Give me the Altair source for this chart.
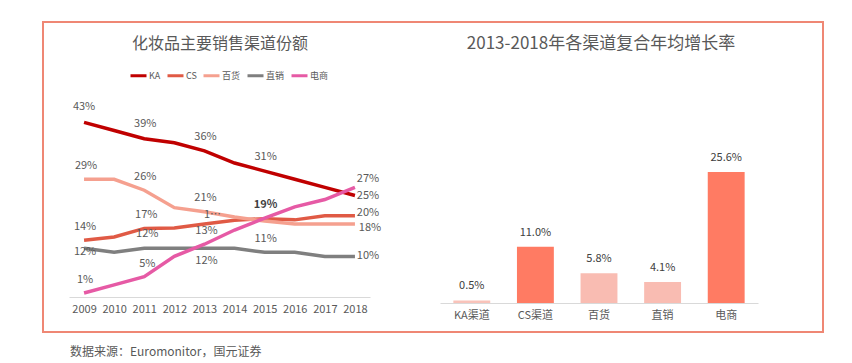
import altair as alt
import pandas as pd

FONT = "Noto Sans CJK SC"
TXT = "#595959"

# ---- left chart data: channel share (%) ----
years = [2009, 2010, 2011, 2012, 2013, 2014, 2015, 2016, 2017, 2018]
series_names = ["KA", "CS", "百货", "直销", "电商"]
ka = [43, 41, 39, 38, 36, 33, 31, 29, 27, 25]
cs = [14, 14.8, 16.9, 17, 18, 18.9, 19.3, 19, 20, 20]
dept = [29, 29, 26.3, 22, 21, 19.7, 18.7, 18, 18, 18]
direct = [12, 11, 12, 12, 12, 12, 11, 11, 10, 10]
ecom = [1, 3, 5, 10, 13, 16.5, 19.4, 22.2, 24, 27]
line_colors = ["#C00000", "#E05A45", "#F5A08F", "#7F7F7F", "#E65AA5"]

# labelled points (series, year) and optional text override
label_series = ["KA", "KA", "KA", "KA", "KA",
                "百货", "百货", "百货", "CS", "电商",
                "电商", "CS", "百货", "CS", "CS",
                "直销", "电商", "直销", "直销", "直销",
                "电商", "直销", "电商"]
label_years = [2009, 2011, 2013, 2015, 2018,
               2009, 2011, 2013, 2013, 2015,
               2018, 2018, 2018, 2011, 2009,
               2011, 2013, 2009, 2015, 2018,
               2011, 2013, 2009]
label_override = {8: "1…"}
label_bold = {9}
# label styling offsets (px)
label_dx = [0, 1, 1, 1, 13,
            2, 1, 1, 8, 1,
            13, 13, 15, 2, 1,
            3, 2, 1, 1, 13,
            3, 2, 1]
label_dy = [-15, -15, -14, -14, 0,
            -13, -13, -14, -9, -13,
            -8, -3, 4, -13, -13,
            -14, -13, 4, -13, 0,
            -13, 13, -13]

# ---- right chart data: CAGR 2013-2018 ----
channels = ["KA渠道", "CS渠道", "百货", "直销", "电商"]
cagr = [0.5, 11.0, 5.8, 4.1, 25.6]
bar_colors = ["#F9C3BA", "#FF7B63", "#F9BCB2", "#F9BCB2", "#FF7B63"]

left_title = "化妆品主要销售渠道份额"
right_title = "2013-2018年各渠道复合年均增长率"
footer = "数据来源：Euromonitor，国元证券"

# ---------------- build ----------------
vals = {"KA": ka, "CS": cs, "百货": dept, "直销": direct, "电商": ecom}
rows = []
for s in series_names:
    for y, v in zip(years, vals[s]):
        rows.append({"series": s, "year": y, "value": v})
line_df = pd.DataFrame(rows)

x_left = alt.X(
    "year:O",
    scale=alt.Scale(domain=years, range=[0, 301]),
    axis=alt.Axis(orient="bottom", offset=-6, title=None, ticks=False,
                  labelAngle=0, labelPadding=6, labelFontSize=11,
                  labelColor=TXT, labelFont=FONT, domainColor="#D9D9D9",
                  domainWidth=1, grid=False),
)
y_left = alt.Y("value:Q", scale=alt.Scale(domain=[0, 50], range=[203, 0]), axis=None)

lines = alt.Chart(line_df).mark_line(strokeWidth=3.5).encode(
    x=x_left,
    y=y_left,
    color=alt.Color(
        "series:N",
        scale=alt.Scale(domain=series_names, range=line_colors),
        legend=alt.Legend(orient="none", legendX=60, legendY=-28,
                          direction="horizontal", columns=5, title=None,
                          symbolType="stroke", symbolStrokeWidth=3,
                          symbolSize=256, labelFontSize=9, labelColor=TXT,
                          labelFont=FONT, columnPadding=0, labelOffset=1,
                          padding=0),
    ),
    detail="series:N",
)

label_layers = []
for i, (s, yr) in enumerate(zip(label_series, label_years)):
    v = vals[s][years.index(yr)]
    txt = label_override.get(i, f"{round(v)}%")
    df = pd.DataFrame({"year": [yr], "value": [v], "txt": [txt]})
    bold = i in label_bold
    label_layers.append(
        alt.Chart(df).mark_text(
            dx=label_dx[i], dy=label_dy[i], fontSize=11, font=FONT,
            color="#404040" if bold else TXT,
            fontWeight="bold" if bold else "normal",
            align="center", baseline="middle",
        ).encode(x=x_left, y=y_left, text="txt:N")
    )

left = alt.layer(lines, *label_layers)

bar_df = pd.DataFrame({"channel": channels, "cagr": cagr,
                       "txt": [f"{c:.1f}%" for c in cagr]})
x_right = alt.X(
    "channel:N",
    scale=alt.Scale(domain=channels, range=[371, 689], paddingInner=0.42,
                    paddingOuter=0.21),
    axis=alt.Axis(orient="bottom", title=None, ticks=False, labelAngle=0,
                  labelPadding=6, labelFontSize=11, labelColor=TXT,
                  labelFont=FONT, domainColor="#D9D9D9", domainWidth=1,
                  grid=False),
)
y_right = alt.Y("cagr:Q", scale=alt.Scale(domain=[0, 30], range=[209, 55.4]), axis=None)

bars = alt.Chart(bar_df).mark_bar().encode(
    x=x_right, y=y_right,
    color=alt.Color("channel:N", scale=alt.Scale(domain=channels, range=bar_colors),
                    legend=None),
)
bar_text = alt.Chart(bar_df).mark_text(
    dy=-9, fontSize=11, font=FONT, color="#404040", baseline="bottom"
).encode(x=x_right, y=y_right, text="txt:N")
right = alt.layer(bars, bar_text)

one = pd.DataFrame({"a": [0]})
border = alt.Chart(one).mark_rect(filled=False, stroke="#EF8774", strokeWidth=2).encode(
    x=alt.value(-26), x2=alt.value(754), y=alt.value(-72), y2=alt.value(238)
)
t_left = alt.Chart(one).mark_text(fontSize=16, font=FONT, color=TXT,
                                  align="center", baseline="middle").encode(
    x=alt.value(151), y=alt.value(-50), text=alt.value(left_title))
t_right = alt.Chart(one).mark_text(fontSize=17, font=FONT, color=TXT,
                                   align="center", baseline="middle").encode(
    x=alt.value(532), y=alt.value(-50), text=alt.value(right_title))

chart = alt.layer(border, t_left, t_right, left, right).resolve_scale(
    x="independent", y="independent", color="independent"
).properties(
    width=689, height=209,
    padding={"left": 34, "top": 13, "right": 5, "bottom": 0},
    background="white",
    title=alt.TitleParams(text=footer, orient="bottom", anchor="start", dx=28,
                          offset=14, fontSize=12, font=FONT, color=TXT,
                          fontWeight="normal"),
).configure_view(stroke="transparent")

chart.save("out.html", embed_options={"renderer": "svg", "actions": False})
